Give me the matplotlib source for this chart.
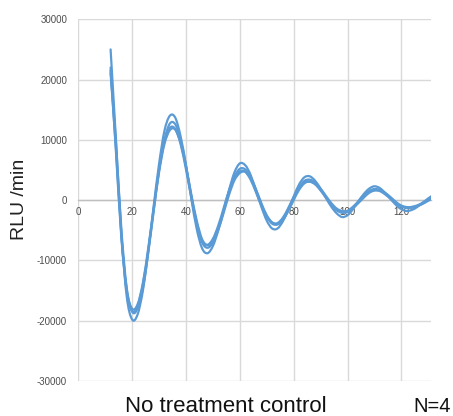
import matplotlib
matplotlib.use("Agg")
import matplotlib.pyplot as plt
from matplotlib.path import Path
from matplotlib.patches import PathPatch

minutes = list(range(12, 134, 2))

series_1 = [25000, 10000, -5500, -16000, -19800, -19000, -15000, -8500, -1000, 6000,
            11500, 14000, 13700, 10600, 5800, 200, -4800, -8000, -8800, -7600,
            -5000, -1700, 1700, 4600, 6100, 5800, 4200, 1600, -1100, -3400,
            -4700, -4700, -3500, -1600, 600, 2600, 3800, 3950, 3200, 1900,
            350, -1100, -2200, -2800, -2500, -1500, -200, 1000, 1900, 2300,
            2000, 1200, 200, -800, -1500, -1800, -1600, -1100, -400, 300, 900]

series_2 = [21500, 9500, -4800, -14600, -18500, -18000, -14600, -8700, -1800, 5000,
            10000, 12700, 12600, 10000, 5700, 700, -3800, -7000, -7900, -7000,
            -4700, -1700, 1400, 3900, 5200, 5100, 3800, 1700, -700, -2700,
            -3900, -4000, -3100, -1500, 350, 2100, 3200, 3400, 2900, 1800,
            500, -800, -1700, -2100, -1950, -1300, -300, 700, 1500, 1850,
            1700, 1150, 350, -450, -1050, -1300, -1250, -950, -500, 50, 550]

series_3 = [21000, 8500, -5800, -14800, -18000, -17300, -13700, -7900, -1300, 5000,
            9700, 12000, 11800, 9300, 5100, 400, -3900, -6700, -7400, -6400,
            -4200, -1300, 1600, 3800, 4800, 4700, 3400, 1300, -900, -2700,
            -3700, -3800, -2900, -1300, 500, 2000, 2900, 3050, 2600, 1600,
            400, -700, -1600, -1900, -1750, -1100, -200, 700, 1400, 1650,
            1500, 950, 200, -500, -1000, -1200, -1100, -850, -400, 100, 600]

series_4 = [22000, 8000, -6200, -15200, -18400, -17600, -14000, -8300, -1700, 4600,
            9300, 11600, 11700, 9500, 5600, 900, -3400, -6500, -7500, -6900,
            -4900, -2100, 900, 3300, 4500, 4700, 3700, 1800, -500, -2500,
            -3700, -4000, -3300, -1800, 0, 1700, 2800, 3100, 2800, 1900,
            700, -500, -1400, -1800, -1800, -1300, -500, 400, 1200, 1600,
            1600, 1200, 500, -300, -900, -1150, -1150, -950, -600, -100, 400]

x_ticks = [0, 20, 40, 60, 80, 100, 120]
y_ticks = [-30000, -20000, -10000, 0, 10000, 20000, 30000]


def smooth_path(xs, ys):
    """Excel-style smoothed line: cubic Bezier segments through every data point."""
    n = len(xs)
    verts = [(xs[0], ys[0])]
    codes = [Path.MOVETO]
    for i in range(n - 1):
        i0 = max(i - 1, 0)
        i3 = min(i + 2, n - 1)
        c1 = (xs[i] + (xs[i + 1] - xs[i0]) / 6.0, ys[i] + (ys[i + 1] - ys[i0]) / 6.0)
        c2 = (xs[i + 1] - (xs[i3] - xs[i]) / 6.0, ys[i + 1] - (ys[i3] - ys[i]) / 6.0)
        verts += [c1, c2, (xs[i + 1], ys[i + 1])]
        codes += [Path.CURVE4, Path.CURVE4, Path.CURVE4]
    return Path(verts, codes)


fig = plt.figure(figsize=(4.53, 4.16), dpi=100)
ax = fig.add_axes([0.1728, 0.0841, 0.7786, 0.8695])

line_color = "#5B9BD5"
for s in (series_1, series_2, series_3, series_4):
    patch = PathPatch(smooth_path(minutes, s), facecolor="none",
                      edgecolor=line_color, lw=1.6, capstyle="round",
                      joinstyle="round", zorder=3)
    ax.add_patch(patch)

ax.set_xlim(0, 131)
ax.set_ylim(-30000, 30000)
ax.set_xticks(x_ticks)
ax.set_yticks(y_ticks)
ax.set_xticklabels([str(v) for v in x_ticks])
ax.set_yticklabels([str(v) for v in y_ticks])

ax.grid(True, color="#D9D9D9", lw=1.0)
ax.set_axisbelow(True)
for side in ("top", "right", "left"):
    ax.spines[side].set_visible(False)
ax.spines["bottom"].set_position(("data", 0))
ax.spines["bottom"].set_color("#BFBFBF")
ax.spines["bottom"].set_linewidth(1.0)
ax.spines["bottom"].set_zorder(1)

ax.tick_params(axis="both", length=0, labelsize=7, labelcolor="#4D4D4D")
ax.tick_params(axis="x", pad=5)
ax.tick_params(axis="y", pad=8)
for lab in ax.get_xticklabels() + ax.get_yticklabels():
    lab.set_family("Liberation Sans")

fig.text(0.044, 0.52, "RLU /min", rotation=90, ha="center", va="center",
         fontsize=14, family="Liberation Sans", color="#222222")
fig.text(0.499, 0.024, "No treatment control", ha="center", va="center",
         fontsize=16, family="Liberation Sans", color="#111111")
fig.text(0.996, 0.024, "N=4", ha="right", va="center",
         fontsize=14.5, family="Liberation Sans", color="#111111")

fig.savefig("out.png", dpi=100)
